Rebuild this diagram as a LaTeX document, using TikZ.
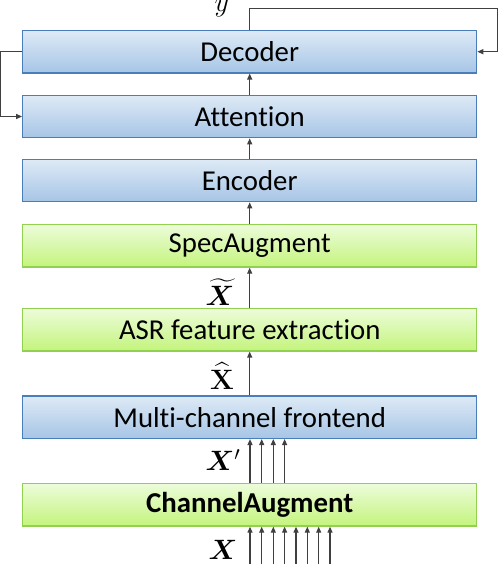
\RequirePackage{fix-cm}
\documentclass[tikz,border=0pt]{standalone}
\usepackage{bm}
\usepackage{amsmath}
\usepackage[no-math]{fontspec}
\setmainfont{Carlito}[Ligatures=CommonOff]
\usetikzlibrary{arrows.meta,calc}
\definecolor{bluetop}{HTML}{DEEAF6}
\definecolor{bluebot}{HTML}{A6C5E6}
\definecolor{blueedge}{HTML}{4A7EBB}
\definecolor{greentop}{HTML}{ECFCDA}
\definecolor{greenbot}{HTML}{C4F47C}
\definecolor{greenedge}{HTML}{92D050}
\definecolor{arrgray}{HTML}{404040}
\tikzset{
  box/.style={minimum width=454pt, minimum height=42.5pt, inner sep=0pt,
    font=\fontsize{28.8}{32}\selectfont, line width=1.2pt},
  bluebox/.style={box, draw=blueedge, top color=bluetop, bottom color=bluebot},
  greenbox/.style={box, draw=greenedge, top color=greentop, bottom color=greenbot},
  arr/.style={draw=arrgray, line width=1.2pt, -{Triangle[length=6pt,width=5pt]}},
  lbl/.style={inner sep=0pt, font=\fontsize{28}{32}\selectfont}
}
\begin{document}
\begin{tikzpicture}[x=1pt,y=-1pt]
\useasboundingbox (0,0) rectangle (499,564);
\node[bluebox] (dec) at (249.7,51.7) {Decoder};
\node[bluebox] (att) at (249.7,116.5) {Attention};
\node[bluebox] (enc) at (249.7,180.5) {Encoder};
\node[greenbox] (spec) at (249.7,245.8) {SpecAugment};
\node[greenbox] (asr) at (249.7,329.7) {ASR feature extraction};
\node[bluebox] (mc) at (249.7,417.2) {Multi-channel frontend};
\node[greenbox,font=\fontsize{28.8}{32}\selectfont\bfseries] (ca) at (249.7,504.8) {ChannelAugment};
% labels
\node[lbl, anchor=base] (ly) at (221.7,12) {$y$};
\node[lbl] (lxt) at (220,292) {$\widetilde{\bm{X}}$};
\node[lbl] (lxh) at (222,376) {$\widehat{\mathbf{X}}$};
\node[lbl] (lxp) at (223,460) {$\bm{X}'$};
\node[lbl] (lx) at (223,550) {$\bm{X}$};
% main arrows
\draw[arr] (mc.north) -- (asr.south);
\draw[arr] (asr.north) -- (spec.south);
\draw[arr] (spec.north) -- (enc.south);
\draw[arr] (enc.north) -- (att.south);
\draw[arr] (att.north) -- (dec.south);
% input channels
\foreach \i/\xx in {1/250,2/261.7,3/273.3,4/284.6,5/296,6/307.3,7/318.7,8/330}{
  \coordinate (in\i) at (\xx,566);
  \draw[arr] (in\i) -- (in\i |- ca.south);
}
\foreach \i in {1,2,3,4}{
  \draw[arr] (in\i |- ca.north) -- (in\i |- mc.south);
}
% feedback loops
\coordinate (fbr) at (497.8,8.3);
\draw[arr] (dec.north) |- (fbr) |- (dec.east);
\coordinate (fbl) at (0.8,51.7);
\draw[arr] (dec.west) -- (fbl) |- (att.west);
\end{tikzpicture}
\end{document}
